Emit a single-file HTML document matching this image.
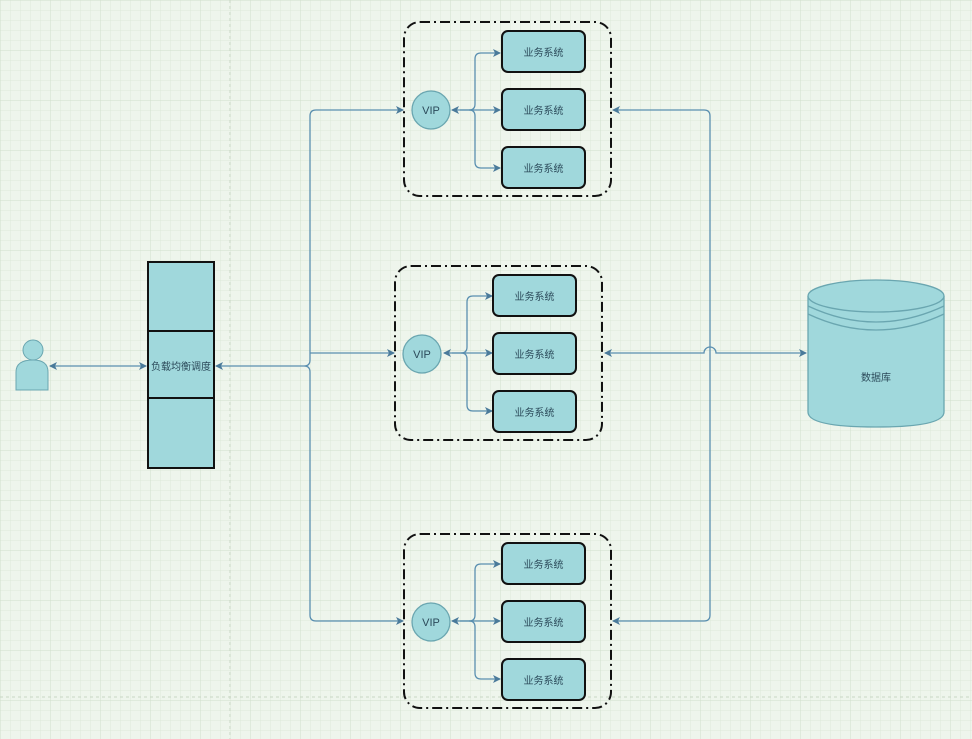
<!DOCTYPE html>
<html><head><meta charset="utf-8"><style>
html,body{margin:0;padding:0;background:#eef5ec;}
svg{display:block;}
text{font-family:"Liberation Sans","Noto Sans CJK SC",sans-serif;fill:#2b4a5a;}
</style></head><body>
<svg width="972" height="739" viewBox="0 0 972 739" xmlns="http://www.w3.org/2000/svg">
<defs>
<pattern id="g" width="10" height="10" patternUnits="userSpaceOnUse"><path d="M10 0H0V10" fill="none" stroke="#dde9da" stroke-width="1"/></pattern>
<pattern id="G" width="50" height="50" patternUnits="userSpaceOnUse"><rect width="50" height="50" fill="url(#g)"/><path d="M50 0H0V50" fill="none" stroke="#d0dfcc" stroke-width="1"/></pattern>
<marker id="a" markerWidth="8" markerHeight="8" refX="7" refY="4" orient="auto-start-reverse" markerUnits="userSpaceOnUse"><path d="M0 0L8 4L0 8L2 4Z" fill="#4a7a9a"/></marker>
</defs>
<rect width="972" height="739" fill="url(#G)"/>
<line x1="230" y1="0" x2="230" y2="739" stroke="#c8d6c4" stroke-dasharray="3 3"/>
<line x1="0" y1="697" x2="972" y2="697" stroke="#c8d6c4" stroke-dasharray="3 3"/>
<g fill="none" stroke="#5a8fb0" stroke-width="1.3">
<line x1="50" y1="366" x2="146" y2="366" marker-end="url(#a)" marker-start="url(#a)"/>
<path d="M304 366H216" marker-end="url(#a)"/>
<path d="M310 360V116Q310 110 316 110H403" marker-end="url(#a)"/>
<path d="M310 372V615Q310 621 316 621H403" marker-end="url(#a)"/>
<path d="M304 366Q310 366 310 360M304 366Q310 366 310 372"/>
<path d="M310 353H394" marker-end="url(#a)"/>
<path d="M710 116V615Q710 621 704 621H613" marker-end="url(#a)"/>
<path d="M710 116Q710 110 704 110H613" marker-end="url(#a)"/>
<path d="M605 353H704A6 6 0 0 1 716 353H806" marker-end="url(#a)" marker-start="url(#a)"/>
<g id="br">
<path d="M452 110H469Q475 110 475 104V59Q475 53 481 53H500" marker-end="url(#a)" marker-start="url(#a)"/>
<path d="M460 110H500" marker-end="url(#a)"/>
<path d="M469 110Q475 110 475 116V162Q475 168 481 168H500" marker-end="url(#a)"/>
</g>
<use href="#br" transform="translate(-8,243)"/>
<use href="#br" transform="translate(0,511)"/>
</g>
<circle cx="33" cy="350" r="10" fill="#a0d8dc" stroke="#6aa6b0"/>
<path d="M16 390V372Q16 360 33 360Q48 360 48 372V390Z" fill="#a0d8dc" stroke="#6aa6b0"/>
<rect x="148" y="262" width="66" height="206" fill="#a0d8dc" stroke="#111" stroke-width="2"/>
<line x1="148" y1="331" x2="214" y2="331" stroke="#111" stroke-width="2"/>
<line x1="148" y1="398" x2="214" y2="398" stroke="#111" stroke-width="2"/>
<text x="181" y="370" font-size="10" text-anchor="middle">负载均衡调度</text>
<g id="grp">
<rect x="404" y="22" width="207" height="174" rx="16" fill="none" stroke="#111" stroke-width="2" stroke-dasharray="10 4 2 4"/>
<circle cx="431" cy="110" r="19" fill="#a0d8dc" stroke="#6aa6b0" stroke-width="1.3"/>
<text x="431" y="114" font-size="11" text-anchor="middle">VIP</text>
<rect x="502" y="31" width="83" height="41" rx="6" fill="#a0d8dc" stroke="#111" stroke-width="2"/>
<rect x="502" y="89" width="83" height="41" rx="6" fill="#a0d8dc" stroke="#111" stroke-width="2"/>
<rect x="502" y="147" width="83" height="41" rx="6" fill="#a0d8dc" stroke="#111" stroke-width="2"/>
<text x="543.5" y="56" font-size="10" text-anchor="middle">业务系统</text>
<text x="543.5" y="114" font-size="10" text-anchor="middle">业务系统</text>
<text x="543.5" y="172" font-size="10" text-anchor="middle">业务系统</text>
</g>
<use href="#grp" transform="translate(-9,244)"/>
<use href="#grp" transform="translate(0,512)"/>
<path d="M808 296V412Q808 427 876 427Q944 427 944 412V296" fill="#a0d8dc" stroke="#6aa6b0" stroke-width="1.3"/>
<ellipse cx="876" cy="296" rx="68" ry="16" fill="#a0d8dc" stroke="#6aa6b0" stroke-width="1.3"/>
<path d="M808 306Q876 338 944 306M808 314Q876 346 944 314" fill="none" stroke="#6aa6b0" stroke-width="1.3"/>
<text x="876" y="381" font-size="10" text-anchor="middle">数据库</text>
</svg>
</body></html>
